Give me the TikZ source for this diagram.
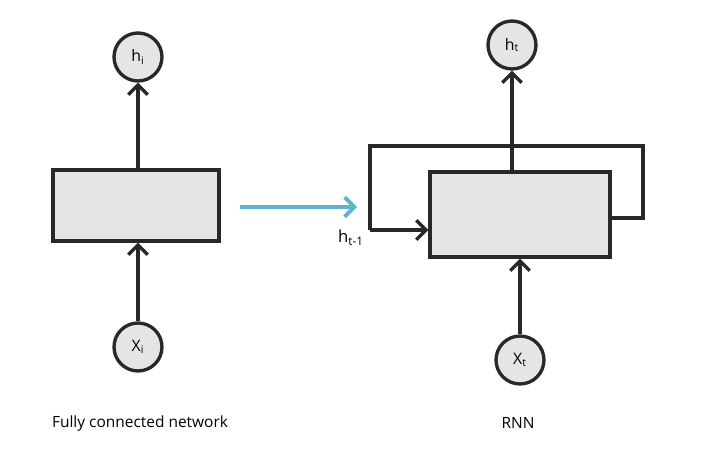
\documentclass[tikz,border=0pt]{standalone}
\usepackage{fontspec}
\setmainfont{Open Sans}
\usetikzlibrary{arrows.meta}

\definecolor{cellgray}{RGB}{229,229,229}
\definecolor{ink}{RGB}{40,40,40}
\definecolor{flowblue}{RGB}{92,180,205}

\tikzstyle{cell} = [rectangle, draw=ink, fill=cellgray, line width=1.9pt, inner sep=0pt]
\tikzstyle{unit} = [circle, draw=ink, fill=cellgray, line width=1.9pt, minimum size=0.96cm, inner sep=0pt, font=\fontsize{9}{10}\selectfont]
\tikzstyle{arrow} = [line width=1.9pt, draw=ink, -{Straight Barb[length=5.5pt,width=11pt]}]
\tikzstyle{wire} = [line width=1.9pt, draw=ink]
\tikzstyle{caption} = [font=\fontsize{8.8}{10}\selectfont, text=black]

\begin{document}
\begin{tikzpicture}[x=0.02cm, y=-0.02cm]
        \useasboundingbox (0,0) rectangle (710,462);

        % fully connected network
        \node (hi) [unit] at (138,57) {h\textsubscript{i}};
        \node (fc) [cell, minimum width=3.32cm, minimum height=1.42cm] at (136,205.5) {};
        \node (xi) [unit] at (138,347) {X\textsubscript{i}};
        \node (fc_label) [caption] at (140,423) {Fully connected network};

        \draw [arrow] (hi |- fc.north) -- (hi);
        \draw [arrow] (xi) -- (xi |- fc.south);

        % transition arrow
        \coordinate (flow_start) at (240,207);
        \coordinate (flow_end) at (357,207);
        \draw [line width=2.2pt, draw=flowblue, -{Straight Barb[length=5.5pt,width=11pt]}] (flow_start) -- (flow_end);

        % RNN
        \node (ht) [unit] at (512,45) {h\textsubscript{t}};
        \node (rnn) [cell, minimum width=3.6cm, minimum height=1.7cm] at (520,214.5) {};
        \node (xt) [unit] at (520,360) {X\textsubscript{t}};
        \node (rnn_label) [caption] at (518,423) {RNN};

        \draw [arrow] (ht |- rnn.north) -- (ht);
        \draw [arrow] (xt) -- (rnn);

        % recurrent loop
        \coordinate (loop_out) at (643,218);
        \coordinate (loop_top) at (370,146);
        \coordinate (loop_in) at (370,230);
        \draw [wire] (rnn.east |- loop_out) -- (loop_out) |- (loop_top) -- (loop_in);
        \draw [arrow] (loop_in) -- (rnn.west |- loop_in);
        \node (hprev) [font=\fontsize{9.5}{10}\selectfont, inner sep=0pt] at (351,238) {h\textsubscript{t-1}};
\end{tikzpicture}
\end{document}
